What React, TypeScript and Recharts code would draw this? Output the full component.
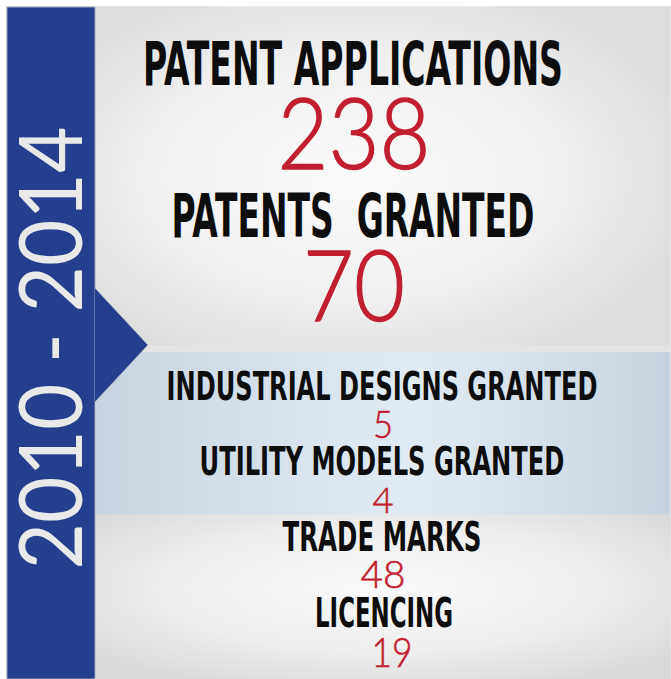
import { useLayoutEffect, useRef, useState } from 'react';
import type { ReactNode } from 'react';
import { ComposedChart } from 'recharts';

// Figures for the 2010 - 2014 period
const periodLabel = '2010 - 2014';
const categories = [
  'PATENT APPLICATIONS',
  'PATENTS  GRANTED',
  'INDUSTRIAL DESIGNS GRANTED',
  'UTILITY MODELS GRANTED',
  'TRADE MARKS',
  'LICENCING',
];
const counts = [238, 70, 5, 4, 48, 19];

// layout of each row (label box + value box), kept apart from the data
const rowLayout = [
  { cx: 353, labelBase: 85, labelW: 420, labelSize: 60, valueCx: 354, valueBase: 169, valueW: 153, valueSize: 98, valueWeight: 300, valueStroke: 1.4 },
  { cx: 353, labelBase: 237, labelW: 363, labelSize: 60, valueCx: 354, valueBase: 321, valueW: 102, valueSize: 98, valueWeight: 300, valueStroke: 1.4 },
  { cx: 382, labelBase: 400, labelW: 431, labelSize: 39, valueCx: 383, valueBase: 438, valueW: 20, valueSize: 37, valueWeight: 300, valueStroke: 0.6 },
  { cx: 382, labelBase: 475, labelW: 365, labelSize: 39, valueCx: 383, valueBase: 513, valueW: 21, valueSize: 35, valueWeight: 300, valueStroke: 0.6 },
  { cx: 382, labelBase: 551, labelW: 199, labelSize: 41, valueCx: 383, valueBase: 588, valueW: 45, valueSize: 37, valueWeight: 300, valueStroke: 0.6 },
  { cx: 384, labelBase: 627, labelW: 138, labelSize: 41, valueCx: 392, valueBase: 667, valueW: 41, valueSize: 41, valueWeight: 300, valueStroke: 0.6 },
];

const W = 671;
const H = 679;
const BLUE = '#253f8e';
const RED = '#c11f31';
const LABEL_FONT = "'Liberation Sans Narrow', 'DejaVu Sans Condensed', 'Roboto', sans-serif";
const VALUE_FONT = "'Lato', 'Open Sans', 'DejaVu Sans', sans-serif";

const rows = categories.map((category, i) => ({ category, count: counts[i] }));

type FitTextProps = {
  x: number;
  y: number;
  width: number;
  rotate?: number;
  fontSize: number;
  fontFamily: string;
  fontWeight: number | string;
  fill: string;
  stroke?: string;
  strokeWidth?: number;
  children: ReactNode;
};

// squeezes a text horizontally so it spans exactly `width` px
function FitText({ x, y, width, rotate = 0, children, ...rest }: FitTextProps) {
  const ref = useRef<SVGTextElement>(null);
  const [sx, setSx] = useState(1);
  useLayoutEffect(() => {
    if (!ref.current) return;
    const natural = ref.current.getComputedTextLength();
    if (natural > 0) setSx(width / natural);
  }, [width, children]);
  return (
    <text
      ref={ref}
      x={0}
      y={0}
      textAnchor="middle"
      transform={`translate(${x} ${y}) rotate(${rotate}) scale(${sx} 1)`}
      style={{ whiteSpace: 'pre' }}
      {...rest}
    >
      {children}
    </text>
  );
}

function Backdrop() {
  return (
    <g>
      <defs>
        <radialGradient id="topPanel" cx="0.45" cy="0.5" r="0.6">
          <stop offset="0%" stopColor="#fafafa" />
          <stop offset="60%" stopColor="#f1f1f1" />
          <stop offset="100%" stopColor="#dddddd" />
        </radialGradient>
        <radialGradient id="bottomPanel" cx="0.5" cy="0.45" r="0.65">
          <stop offset="0%" stopColor="#fafafa" />
          <stop offset="60%" stopColor="#eeeeee" />
          <stop offset="100%" stopColor="#d9d9d9" />
        </radialGradient>
        <linearGradient id="band" x1="0" y1="0" x2="1" y2="0">
          <stop offset="0%" stopColor="#c7d4df" />
          <stop offset="55%" stopColor="#e1ebf4" />
          <stop offset="100%" stopColor="#c6d3de" />
        </linearGradient>
      </defs>
      <rect x={0} y={0} width={W} height={H} fill="#ffffff" />
      <rect x={6} y={6} width={665} height={H - 6} fill="#e6e6e6" />
      <rect x={96} y={7} width={574} height={338} fill="url(#topPanel)" />
      <rect x={96} y={345} width={574} height={7} fill="#e4e4e4" />
      <rect x={96} y={352} width={574} height={162} fill="url(#band)" />
      <rect x={96} y={514} width={574} height={H - 514} fill="url(#bottomPanel)" />
      <rect x={7} y={7} width={88} height={H - 7} fill={BLUE} stroke="#9aa3b8" strokeWidth={1} />
      <path d="M 95 288 L 148 345 L 95 402 Z" fill={BLUE} />
      <path d="M 95 288 L 148 345 L 95 402" fill="none" stroke="#b8bcc6" strokeWidth={0.8} />
      <FitText
        x={82}
        y={348}
        rotate={-90}
        width={443}
        fontFamily={VALUE_FONT}
        fontWeight={400}
        fontSize={88}
        fill="#e9e9e9"
      >
        {periodLabel}
      </FitText>
    </g>
  );
}

function Figures() {
  return (
    <g>
      {rows.map((row, i) => {
        const l = rowLayout[i];
        return (
          <g key={row.category}>
            <FitText
              x={l.cx}
              y={l.labelBase}
              width={l.labelW}
              fontFamily={LABEL_FONT}
              fontWeight="bold"
              fontSize={l.labelSize}
              fill="#0d0d0d"
            >
              {row.category}
            </FitText>
            <FitText
              x={l.valueCx}
              y={l.valueBase}
              width={l.valueW}
              fontFamily={VALUE_FONT}
              fontWeight={l.valueWeight}
              fontSize={l.valueSize}
              fill={RED}
              stroke={RED}
              strokeWidth={l.valueStroke}
            >
              {row.count}
            </FitText>
          </g>
        );
      })}
    </g>
  );
}

export default function App() {
  return (
    <div style={{ position: 'absolute', left: 0, top: 0, width: W, height: H }}>
      <ComposedChart width={W} height={H} data={rows} margin={{ top: 0, right: 0, bottom: 0, left: 0 }}>
        <Backdrop />
        <Figures />
      </ComposedChart>
    </div>
  );
}
